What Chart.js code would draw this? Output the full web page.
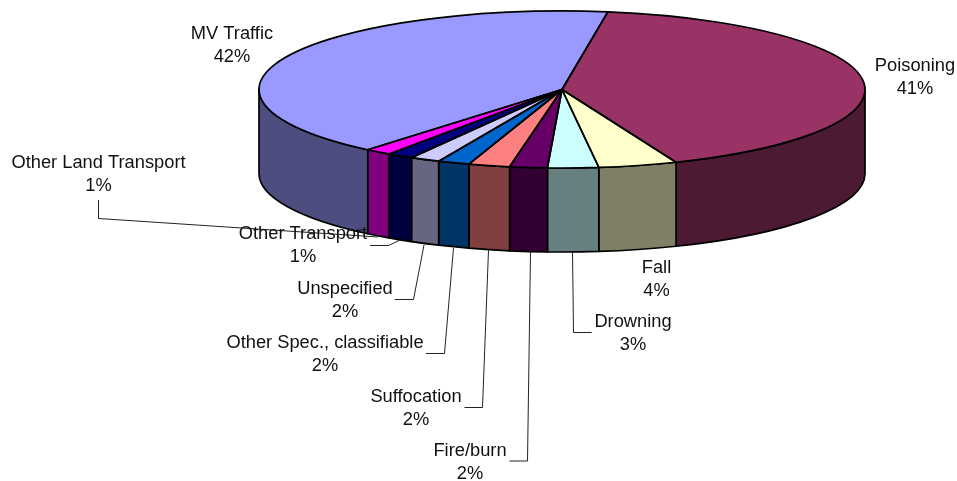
<!DOCTYPE html>
<html>
<head>
<meta charset="utf-8">
<style>html,body{margin:0;padding:0;background:#fff;overflow:hidden}canvas{display:block}</style>
<script src="https://cdn.jsdelivr.net/npm/chart.js@4"></script>
</head>
<body>
<canvas id="c" width="957" height="481"></canvas>
<script>
const categories = ["Poisoning","Fall","Drowning","Fire/burn","Suffocation","Other Spec., classifiable","Unspecified","Other Transport","Other Land Transport","MV Traffic"];
const sliceValues = [41.4,4.2,2.7,2.0,2.2,1.7,1.6,1.4,1.4,41.3];
const percentLabels = ["41%","4%","3%","2%","2%","2%","2%","1%","1%","42%"];
const topColors = ["#993366","#FFFFCC","#CCFFFF","#660066","#FF8080","#0066CC","#CCCCFF","#000080","#FF00FF","#9999FF"];
const sideColors = ["#4D1A33","#808066","#668080","#330033","#804040","#003366","#666680","#000040","#800080","#4D4D80"];

const GEO = {cx:562, cy:89.5, rx:303, ry:78.5, depth:84};
const FONT = '18.3px "Liberation Sans", Arial, sans-serif';
const LABEL_POS = [[915,66],[656.5,268],[633,322],[470,451],[416,397],[325,343],[345,289],[303,234],[98.5,163],[232,34]];
const LEADERS = [null,null,
 [[591.7,332.5],[573.5,332.5],[572.5,252]],
 [[509.5,461],[527.5,461],[530.5,252]],
 [[464.5,407.5],[482.5,407.5],[488.5,250]],
 [[426,353.5],[444.5,353.5],[453.5,248]],
 [[395,299.5],[413.5,299.5],[424,245]],
 [[370,245.5],[388.5,245.5],[400,240]],
 [[98.5,200],[98.5,218.5],[378,237]],
 null];

const pie3d = {
  id:'pie3d',
  beforeDatasetsDraw(chart){
    const ctx = chart.ctx, arcs = chart.getDatasetMeta(0).data, g = GEO;
    const r = arcs[0].outerRadius, x0 = arcs[0].x, y0 = arcs[0].y;
    ctx.save();
    ctx.lineWidth = 1.7; ctx.strokeStyle = '#000'; ctx.lineJoin = 'round';
    arcs.forEach((a,i)=>{
      const s = Math.max(a.startAngle,0), e = Math.min(a.endAngle,Math.PI);
      if (e <= s) return;
      ctx.beginPath();
      ctx.ellipse(g.cx,g.cy,g.rx,g.ry,0,s,e,false);
      ctx.ellipse(g.cx,g.cy+g.depth,g.rx,g.ry,0,e,s,true);
      ctx.closePath();
      ctx.fillStyle = sideColors[i];
      ctx.fill(); ctx.stroke();
    });
    ctx.restore();
    ctx.save();
    ctx.translate(g.cx,g.cy);
    ctx.scale(g.rx/r,g.ry/r);
    ctx.translate(-x0,-y0);
  },
  afterDatasetsDraw(chart){
    const ctx = chart.ctx, arcs = chart.getDatasetMeta(0).data, g = GEO;
    ctx.restore();
    ctx.save();
    ctx.lineWidth = 1.7; ctx.strokeStyle = '#000'; ctx.lineJoin = 'round';
    arcs.forEach(a=>{
      ctx.beginPath();
      ctx.moveTo(g.cx,g.cy);
      ctx.ellipse(g.cx,g.cy,g.rx,g.ry,0,a.startAngle,a.endAngle,false);
      ctx.closePath();
      ctx.stroke();
    });
    ctx.restore();
  },
  afterDraw(chart){
    const ctx = chart.ctx;
    ctx.save();
    ctx.strokeStyle = '#222'; ctx.lineWidth = 1;
    LEADERS.forEach(L=>{
      if(!L) return;
      ctx.beginPath();
      L.forEach((p,i)=> i ? ctx.lineTo(p[0],p[1]) : ctx.moveTo(p[0],p[1]));
      ctx.stroke();
    });
    ctx.fillStyle = '#111'; ctx.font = FONT;
    ctx.textAlign = 'center'; ctx.textBaseline = 'middle';
    categories.forEach((c,i)=>{
      const [x,y] = LABEL_POS[i];
      ctx.fillText(c,x,y);
      ctx.fillText(percentLabels[i],x,y+23);
    });
    ctx.restore();
  }
};

new Chart(document.getElementById('c'),{
  type:'pie',
  data:{labels:categories,datasets:[{data:sliceValues,backgroundColor:topColors,borderWidth:0}]},
  options:{
    responsive:false,animation:false,rotation:8.7,
    layout:{padding:0},
    plugins:{legend:{display:false},tooltip:{enabled:false},title:{display:false}}
  },
  plugins:[pie3d]
});
</script>
</body>
</html>
